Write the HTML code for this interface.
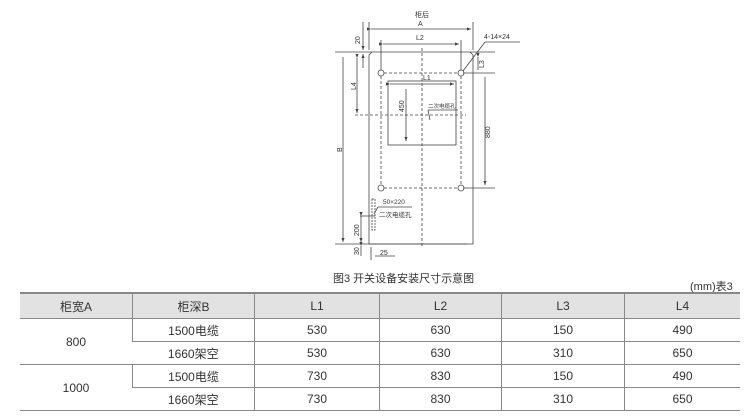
<!DOCTYPE html>
<html><head><meta charset="utf-8"><style>
body{margin:0;width:750px;height:417px;background:#fff;overflow:hidden;font-family:"Liberation Sans","Noto Sans CJK SC",sans-serif;position:relative}
svg{position:absolute;left:0;top:0}
.t{position:absolute;font-size:12px;color:#333}
table{position:absolute;left:20px;top:292px;border-collapse:collapse;width:720px;font-size:12px;color:#333}
td{text-align:center;border-bottom:1px solid #888;border-left:1px solid #888;padding:0}
td:first-child{border-left:none}
tr.h td{background:#e2e2e2;height:24px;border-top:2px solid #888}
tr.r td{height:22px}
</style></head><body>
<svg width="750" height="290" viewBox="0 0 750 290" font-family="Liberation Sans, Noto Sans CJK SC, sans-serif" fill="none" stroke="#444" stroke-width="0.8">
<defs><marker id="a" markerWidth="6" markerHeight="6" refX="5" refY="3" orient="auto"><path d="M0,1 L5,3 L0,5Z" fill="#444" stroke="none"/></marker></defs>
<line x1="335" y1="52" x2="495" y2="52"/>
<path d="M372 52 L369 55 L369 244 L473 244 L473 55 L470 52"/>
<line x1="335" y1="244" x2="467" y2="244"/>
<rect x="388" y="81" width="68" height="64"/>
<g stroke-dasharray="3,2">
<line x1="422" y1="48" x2="422" y2="248"/>
<line x1="384" y1="73" x2="458" y2="73"/><line x1="384" y1="188" x2="458" y2="188"/>
<line x1="381" y1="76" x2="381" y2="185"/><line x1="461" y1="76" x2="461" y2="185"/>
<line x1="355" y1="115" x2="466" y2="115"/>
</g>
<circle cx="381" cy="73" r="3"/><circle cx="461" cy="73" r="3"/>
<circle cx="381" cy="188" r="3"/><circle cx="461" cy="188" r="3"/>
<line x1="369" y1="22" x2="369" y2="50"/><line x1="473" y1="22" x2="473" y2="50"/>
<line x1="371" y1="29" x2="471" y2="29" marker-start="url(#a)" marker-end="url(#a)"/>
<line x1="381" y1="40" x2="381" y2="70"/><line x1="461" y1="40" x2="461" y2="70"/>
<line x1="383" y1="44" x2="459" y2="44" marker-start="url(#a)" marker-end="url(#a)"/>
<line x1="390" y1="84" x2="454" y2="84" marker-start="url(#a)" marker-end="url(#a)"/>
<line x1="463" y1="73" x2="495" y2="73"/><line x1="463" y1="188" x2="495" y2="188"/>
<line x1="485" y1="77" x2="485" y2="185" marker-end="url(#a)"/>
<line x1="478" y1="57" x2="478" y2="70" marker-start="url(#a)"/>
<line x1="363" y1="22" x2="363" y2="50" marker-end="url(#a)"/>
<line x1="363" y1="68" x2="363" y2="54" marker-end="url(#a)"/>
<line x1="357" y1="58" x2="357" y2="113" marker-start="url(#a)" marker-end="url(#a)"/>
<line x1="343" y1="57" x2="343" y2="242" marker-end="url(#a)"/>
<line x1="406" y1="89" x2="406" y2="141" marker-end="url(#a)"/>
<line x1="463" y1="71" x2="485" y2="42"/><line x1="485" y1="42" x2="520" y2="42"/>
<line x1="428" y1="110" x2="458" y2="110"/><line x1="428" y1="110" x2="430" y2="120"/>
<rect x="372" y="199" width="3" height="31" stroke-dasharray="2,1"/>
<line x1="361" y1="216" x2="361" y2="242" marker-start="url(#a)" marker-end="url(#a)"/>
<line x1="360" y1="216" x2="375" y2="216"/>
<line x1="374" y1="214" x2="378" y2="207"/><line x1="378" y1="207" x2="412" y2="207"/>
<line x1="361" y1="246" x2="361" y2="256" marker-start="url(#a)"/>
<line x1="371" y1="247" x2="371" y2="260"/>
<line x1="375" y1="256" x2="395" y2="256"/>
<g fill="#333" stroke="none" font-size="7">
<text x="415" y="17">柜后</text>
<text x="418" y="26">A</text>
<text x="416" y="40">L2</text>
<text x="423" y="80">L1</text>
<text x="484" y="39">4-14×24</text>
<text x="428" y="108" font-size="5.5">二次电缆孔</text>
<text x="383" y="204" font-size="6.5">50×220</text>
<text x="379" y="217" font-size="6.5">二次电缆孔</text>
<text x="380" y="255">25</text>
<text transform="translate(360,44) rotate(-90)">20</text>
<text transform="translate(484,68) rotate(-90)">L3</text>
<text transform="translate(490,138) rotate(-90)">880</text>
<text transform="translate(356,90) rotate(-90)">L4</text>
<text transform="translate(342,152) rotate(-90)">B</text>
<text transform="translate(404,112) rotate(-90)">450</text>
<text transform="translate(359,236) rotate(-90)">200</text>
<text transform="translate(359,255) rotate(-90)">30</text>
</g>
</svg>
<div class="t" style="left:333px;top:270px;font-size:11px">图3 开关设备安装尺寸示意图</div>
<div class="t" style="left:690px;top:278px;font-size:11px">(mm)表3</div>
<table>
<tr class="h"><td style="width:112px">柜宽A</td><td style="width:121px">柜深B</td><td style="width:124px">L1</td><td style="width:121px">L2</td><td style="width:122px">L3</td><td>L4</td></tr>
<tr class="r"><td rowspan="2">800</td><td>1500电缆</td><td>530</td><td>630</td><td>150</td><td>490</td></tr>
<tr class="r"><td>1660架空</td><td>530</td><td>630</td><td>310</td><td>650</td></tr>
<tr class="r"><td rowspan="2">1000</td><td>1500电缆</td><td>730</td><td>830</td><td>150</td><td>490</td></tr>
<tr class="r"><td>1660架空</td><td>730</td><td>830</td><td>310</td><td>650</td></tr>
</table>
</body></html>
